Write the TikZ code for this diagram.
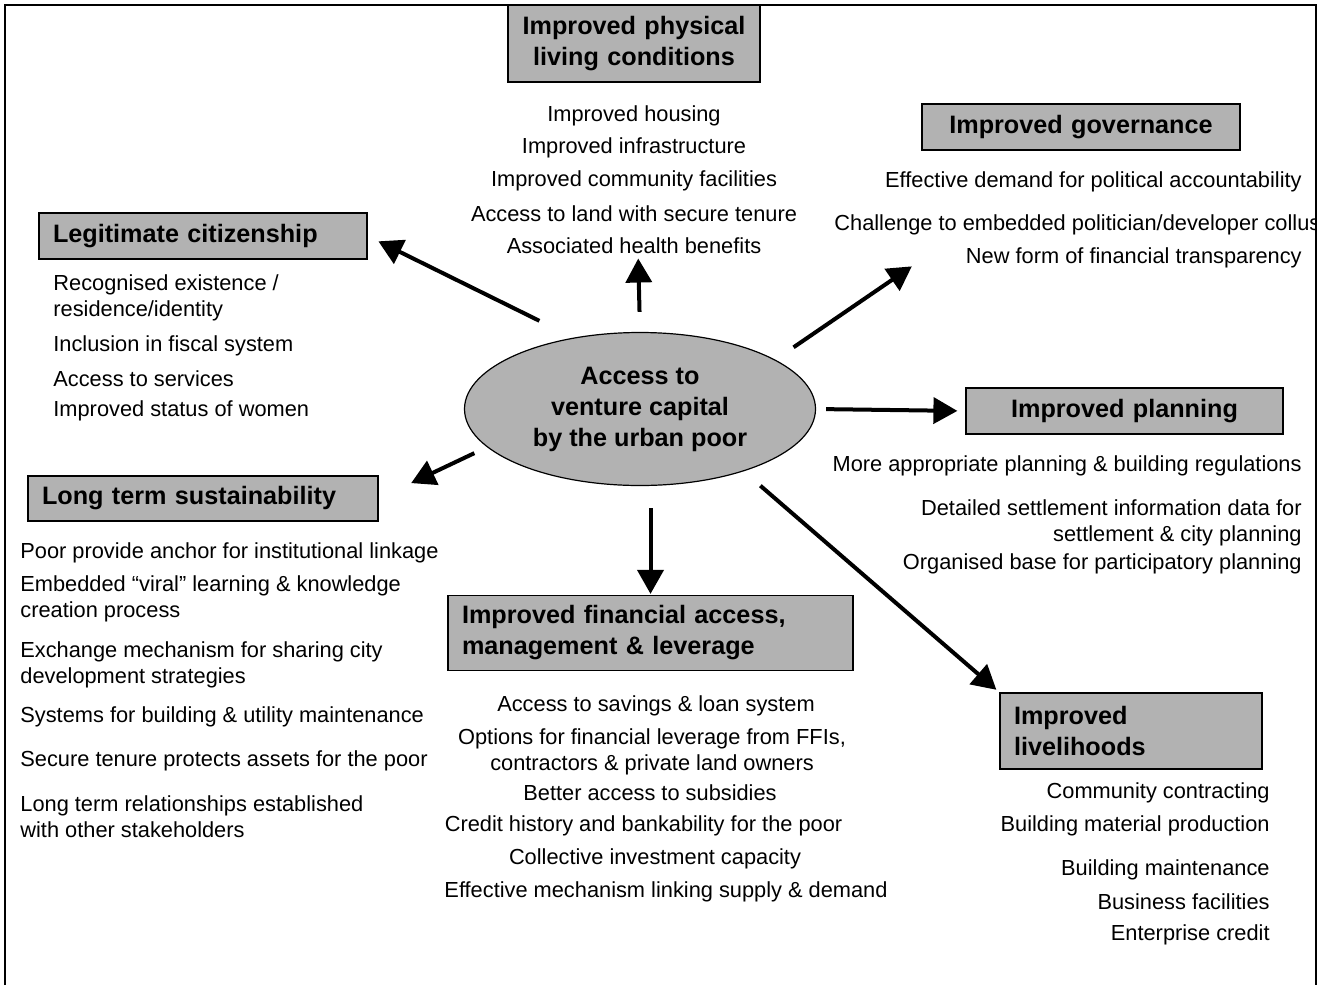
\documentclass[tikz,border=0pt]{standalone}
\usepackage{fontspec}
\setmainfont{Liberation Sans}
\definecolor{boxgray}{RGB}{178,178,178}
\usetikzlibrary{arrows.meta,shapes.geometric}
\newcommand{\benefitfont}{\fontsize{10.9}{13}\selectfont}
\newcommand{\outcomefont}{\fontsize{12.6}{15.5}\selectfont\bfseries}
\tikzset{
  outcome/.style={rectangle,draw=black,line width=0.6pt,fill=boxgray,
                  text width=#1,inner xsep=7pt,inner ysep=0pt,
                  minimum height=23pt,font=\outcomefont},
  outcome/.default=145pt,
  benefit/.style={inner sep=0pt,yshift=-1pt,font=\benefitfont},
  flow/.style={-{Triangle[length=12pt,width=13pt]},line width=2pt},
}

\begin{document}
\begin{tikzpicture}[x=0.5pt,y=-0.5pt,
      hub/.style={ellipse,draw=black,line width=0.6pt,fill=boxgray,
                  minimum width=175.5pt,minimum height=76.5pt,
                  inner sep=0pt,align=center,font=\outcomefont},
    ]
    \useasboundingbox (0,0) rectangle (1325,985);
    \draw[line width=1pt] (5,985) |- (1316,5) -- (1316,985);

    \node[hub] (hub) at (640,409) {Access to\\venture capital\\by the urban poor};

    \node[outcome=116pt,inner xsep=5pt,align=center,minimum height=38.5pt] (phys) at (634,43.5) {Improved physical\\living conditions};
    \node[outcome=145pt,align=center]                    (gov)   at (1081,127)   {Improved governance};
    \node[outcome=150pt,align=left]                      (legit) at (203,236)    {Legitimate citizenship};
    \node[outcome=144.5pt,align=center]                  (plan)  at (1124.5,411) {Improved planning};
    \node[outcome=161pt,align=left,minimum height=22.5pt] (longt) at (203,498.5)  {Long term sustainability};
    \node[outcome=188.5pt,align=left,minimum height=37.5pt] (fin) at (650.5,633)  {Improved financial access,\\management \& leverage};
    \node[outcome=117pt,align=left,minimum height=38pt]  (live)  at (1131,731)   {Improved\\livelihoods};

    % benefits
    \foreach \y/\t [count=\i] in {114/Improved housing,146/Improved infrastructure,
        179/Improved community facilities,212/Access to land with secure tenure,
        244/Associated health benefits}
      \node[benefit] (phys\i) at (634,\y) {\t};

    \node[benefit,anchor=east] (gov1) at (1302,180) {Effective demand for political accountability};
    \begin{scope}
      \clip (5,5) rectangle (1315,985);
      \node[benefit,anchor=west] (gov2) at (834,223) {Challenge to embedded politician/developer collus};
    \end{scope}
    \node[benefit,anchor=east] (gov3) at (1302,256) {New form of financial transparency};

    \foreach \y/\t [count=\i] in {296/{Recognised existence /\\residence/identity},
        344/Inclusion in fiscal system,377/Access to services,409/Improved status of women}
      \node[benefit,anchor=west,align=left] (legit\i) at (53,\y) {\t};

    \foreach \y/\t [count=\i] in {464/More appropriate planning \& building regulations,
        521/{Detailed settlement information data for\\settlement \& city planning},
        562/Organised base for participatory planning}
      \node[benefit,anchor=east,align=right] (plan\i) at (1302,\y) {\t};

    \foreach \y/\t [count=\i] in {551/Poor provide anchor for institutional linkage,
        596.5/{Embedded “viral” learning \& knowledge\\creation process},
        663/{Exchange mechanism for sharing city\\development strategies},
        715/Systems for building \& utility maintenance,
        759/Secure tenure protects assets for the poor,
        815/{Long term relationships established\\with other stakeholders}}
      \node[benefit,anchor=west,align=left] (longt\i) at (20,\y) {\t};

    \foreach \x/\y/\t [count=\i] in {656/704/Access to savings \& loan system,
        652/750/{Options for financial leverage from FFIs,\\contractors \& private land owners},
        650/791/Better access to subsidies,643.5/824/Credit history and bankability for the poor,
        655/857/Collective investment capacity,666/890/Effective mechanism linking supply \& demand}
      \node[benefit,align=center] (fin\i) at (\x,\y) {\t};

    \foreach \y/\t [count=\i] in {791/Community contracting,824/Building material production,
        868/Building maintenance,900/Business facilities,933/Enterprise credit}
      \node[benefit,anchor=east] (live\i) at (1270,\y) {\t};

    % arrows
    \foreach \a/\b/\s/\e in {hub.north/phys.south/10pt/88pt,hub.133/legit.east/19pt/6pt,
        hub.20/gov.south/11pt/102.5pt,hub.east/plan.west/5pt/4pt,hub.194/longt.east/7pt/18pt,
        fin.north |- hub.south/fin.north/11pt/0.5pt,hub.329/live.north west/11pt/2pt}
      \draw[flow,shorten <=\s,shorten >=\e] (\a) -- (\b);

  \end{tikzpicture}
\end{document}
